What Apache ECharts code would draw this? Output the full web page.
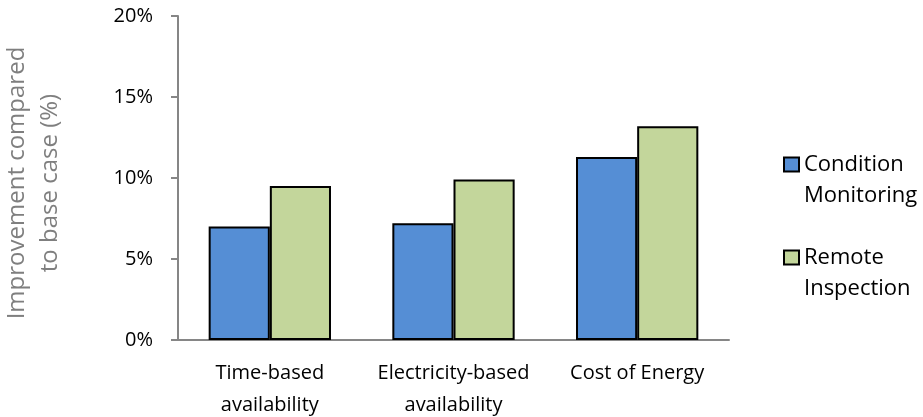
<!DOCTYPE html>
<html>
<head>
<meta charset="utf-8">
<script src="https://cdn.jsdelivr.net/npm/echarts@6/dist/echarts.min.js"></script>
<style>
  html, body { margin: 0; padding: 0; background: #fff; }
  #chart { width: 923px; height: 417px; }
</style>
</head>
<body>
<div id="chart"></div>
<script>
// Categories and improvement values (%) per strategy
const categories = ['Time-based\navailability', 'Electricity-based\navailability', 'Cost of Energy'];
const conditionMonitoring = [7.0, 7.2, 11.3];
const remoteInspection = [9.5, 9.9, 13.2];
const seriesNames = ['Condition Monitoring', 'Remote Inspection'];
const yTicks = { min: 0, max: 20, interval: 5 };

const FONT = 'Open Sans';
const axisGray = '#868686';

const chart = echarts.init(document.getElementById('chart'), null, { renderer: 'canvas' });

chart.setOption({
  animation: false,
  backgroundColor: '#ffffff',
  textStyle: { fontFamily: FONT },
  grid: { left: 178, right: 194, top: 16, bottom: 77, containLabel: false, outerBoundsMode: 'none' },
  legend: {
    orient: 'vertical',
    left: 783,
    top: 118,
    padding: 0,
    itemGap: 0,
    itemWidth: 15,
    itemHeight: 14,
    icon: 'rect',
    itemStyle: { borderColor: '#000', borderWidth: 2 },
    // a blank first line keeps the swatch level with the first word
    formatter: name => ' \n' + name.replace(' ', '\n'),
    textStyle: { fontFamily: FONT, fontSize: 22, color: '#000', lineHeight: 31 },
    data: seriesNames
  },
  xAxis: {
    type: 'category',
    data: categories,
    axisLine: { lineStyle: { color: axisGray, width: 2 } },
    axisTick: { show: false },
    axisLabel: { interval: 0, color: '#000', fontFamily: FONT, fontSize: 20, lineHeight: 32, margin: 17 }
  },
  yAxis: {
    type: 'value',
    min: yTicks.min,
    max: yTicks.max,
    interval: yTicks.interval,
    name: 'Improvement compared\nto base case (%)',
    nameLocation: 'middle',
    nameRotate: 90,
    nameGap: 111,
    nameTextStyle: { color: '#7f7f7f', fontFamily: FONT, fontSize: 24, lineHeight: 33, padding: [0, 10, 0, 0] },
    axisLine: { show: true, lineStyle: { color: axisGray, width: 2 } },
    axisTick: { show: true, length: 7, lineStyle: { color: axisGray, width: 2 } },
    splitLine: { show: false },
    axisLabel: { color: '#000', fontFamily: FONT, fontSize: 20, margin: 25, formatter: '{value}%' }
  },
  series: [
    {
      name: seriesNames[0],
      type: 'bar',
      data: conditionMonitoring,
      barWidth: '33.3%',
      barGap: 0,
      itemStyle: { color: '#558ED5', borderColor: '#000', borderWidth: 2 }
    },
    {
      name: seriesNames[1],
      type: 'bar',
      data: remoteInspection,
      barWidth: '33.3%',
      barGap: 0,
      itemStyle: { color: '#C3D69B', borderColor: '#000', borderWidth: 2 }
    }
  ]
});
</script>
</body>
</html>
